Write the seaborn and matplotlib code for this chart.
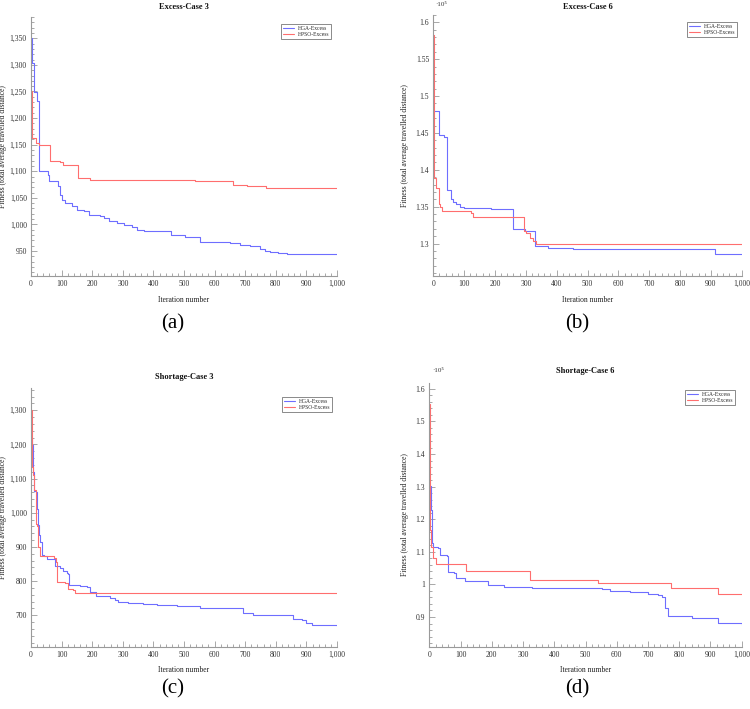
import matplotlib
matplotlib.use("Agg")
import matplotlib.pyplot as plt
import seaborn as sns
import numpy as np
import pandas as pd
from matplotlib.ticker import MultipleLocator, FuncFormatter

# ---------------- data ----------------
a_hga_it = [0, 4, 11, 18, 25, 27, 54, 59, 89, 95, 100, 111, 133, 150, 172, 189, 227, 240, 254, 281,
            305, 330, 346, 368, 456, 503, 552, 606, 650, 683, 715, 748, 765, 781, 808, 835, 1000]
a_hga_val = [1351, 1303, 1249, 1232, 1193, 1100, 1092, 1081, 1073, 1055, 1045, 1040, 1035, 1028, 1026,
             1018, 1016, 1012, 1006, 1003, 998, 996, 990, 988, 980, 977, 967, 966, 965, 962, 960, 953,
             950, 948, 946, 944, 944]
a_pso_it = [0, 2, 4, 16, 27, 62, 95, 103, 155, 193, 536, 659, 707, 768, 1000]
a_pso_val = [1251, 1234, 1162, 1153, 1150, 1119, 1117, 1112, 1087, 1083, 1081, 1075, 1072, 1068, 1068]

b_hga_it = [0, 17, 34, 45, 58, 63, 75, 88, 100, 186, 259, 296, 331, 372, 454, 913, 1000]
b_hga_val = [1.480, 1.4466, 1.444, 1.373, 1.361, 1.357, 1.353, 1.349, 1.348, 1.3475, 1.320, 1.317,
             1.2973, 1.294, 1.292, 1.286, 1.286]
b_pso_it = [0, 2, 10, 17, 22, 29, 123, 129, 294, 299, 312, 323, 332, 1000]
b_pso_val = [1.583, 1.389, 1.375, 1.3535, 1.350, 1.3435, 1.341, 1.3367, 1.317, 1.314, 1.307, 1.303,
             1.299, 1.299]

c_hga_it = [0, 2, 5, 7, 11, 16, 18, 22, 24, 27, 29, 35, 37, 44, 52, 78, 95, 105, 117, 122, 125, 160,
            182, 193, 211, 258, 274, 285, 318, 367, 411, 476, 552, 574, 692, 726, 770, 857, 884, 900,
            917, 1000]
c_hga_val = [1218, 1198, 1130, 1118, 1064, 1060, 1010, 970, 964, 935, 915, 912, 877, 872, 864, 845, 838,
             830, 825, 820, 789, 786, 782, 767, 755, 750, 745, 740, 736, 733, 730, 728, 722, 720, 706,
             702, 700, 688, 685, 677, 670, 668]
c_pso_it = [0, 4, 7, 11, 15, 16, 20, 22, 29, 76, 83, 86, 111, 122, 136, 144, 1000]
c_pso_val = [1300, 1135, 1110, 1066, 1050, 966, 960, 901, 874, 867, 857, 798, 795, 776, 773, 766, 766]

d_hga_it = [0, 7, 9, 11, 29, 34, 56, 59, 80, 84, 114, 189, 240, 328, 552, 578, 642, 700, 733, 744,
            754, 765, 840, 923, 1000]
d_hga_val = [1.301, 1.229, 1.127, 1.116, 1.111, 1.091, 1.086, 1.039, 1.034, 1.019, 1.012, 0.998, 0.991,
             0.988, 0.985, 0.980, 0.977, 0.972, 0.968, 0.962, 0.927, 0.903, 0.898, 0.881, 0.876]
d_pso_it = [0, 1, 5, 11, 21, 117, 322, 539, 774, 923, 1000]
d_pso_val = [1.555, 1.1675, 1.116, 1.080, 1.062, 1.040, 1.013, 1.005, 0.990, 0.970, 0.970]

titles = ["Excess-Case 3", "Excess-Case 6", "Shortage-Case 3", "Shortage-Case 6"]
panel_labels = ["(a)", "(b)", "(c)", "(d)"]
series_names = ["HGA-Excess", "HPSO-Excess"]
x_label = "Iteration number"
y_label = "Fitness (total average travelled distance)"

# ---------------- style ----------------
sns.set_style("white")
plt.rcParams["font.family"] = ["Liberation Serif", "DejaVu Serif"]

W, H = 750, 709
fig = plt.figure(figsize=(W / 100, H / 100), dpi=100)

BLUE = "#6e6eff"
RED = "#ff6e6e"
SPINE = "#9a9a9a"


def px_axes(l, t, r, b):
    return fig.add_axes([l / W, 1 - b / H, (r - l) / W, (b - t) / H])


panels = [
    dict(box=(31, 17, 337, 276), ylim=(903, 1390), major=50, minor=10, comma=True,
         hga=(a_hga_it, a_hga_val), pso=(a_pso_it, a_pso_val), leg=(281, 24), title_y=7,
         lab=(173, 324), exp=None, xlab_y=296, ylab_x=7),
    dict(box=(433.3, 15, 741.7, 276), ylim=(1.256, 1.61), major=0.05, minor=0.01, comma=False,
         hga=(b_hga_it, b_hga_val), pso=(b_pso_it, b_pso_val), leg=(687, 22), title_y=7,
         lab=(577, 324), exp=(435, 5), xlab_y=296, ylab_x=409),
    dict(box=(31, 388, 337, 647), ylim=(607, 1365), major=100, minor=20, comma=True,
         hga=(c_hga_it, c_hga_val), pso=(c_pso_it, c_pso_val), leg=(282, 397), title_y=377,
         lab=(173, 689), exp=None, xlab_y=666, ylab_x=7),
    dict(box=(429.3, 383, 741.7, 647), ylim=(0.808, 1.618), major=0.1, minor=0.02, comma=False,
         hga=(d_hga_it, d_hga_val), pso=(d_pso_it, d_pso_val), leg=(685, 390), title_y=371,
         lab=(577, 689), exp=(432, 370), xlab_y=666, ylab_x=409),
]


def comma_fmt(v, pos):
    return f"{int(round(v)):,}"


def dec_fmt(v, pos):
    s = f"{v:.2f}".rstrip("0").rstrip(".")
    return s


for i, p in enumerate(panels):
    l, t, r, b = p["box"]
    ax = px_axes(l, t, r, b)
    df_h = pd.DataFrame({"it": p["hga"][0], "val": p["hga"][1]})
    df_p = pd.DataFrame({"it": p["pso"][0], "val": p["pso"][1]})
    sns.lineplot(data=df_h, x="it", y="val", ax=ax, color=BLUE, linewidth=0.8,
                 drawstyle="steps-post", estimator=None, sort=False, label=series_names[0])
    sns.lineplot(data=df_p, x="it", y="val", ax=ax, color=RED, linewidth=0.8,
                 drawstyle="steps-post", estimator=None, sort=False, label=series_names[1])
    ax.set_xlim(0, 1000)
    ax.set_ylim(*p["ylim"])
    for s in ["top", "right"]:
        ax.spines[s].set_visible(False)
    for s in ["left", "bottom"]:
        ax.spines[s].set_color(SPINE)
        ax.spines[s].set_linewidth(0.8)
    ax.xaxis.set_major_locator(MultipleLocator(100))
    ax.xaxis.set_minor_locator(MultipleLocator(20))
    ax.yaxis.set_major_locator(MultipleLocator(p["major"]))
    ax.yaxis.set_minor_locator(MultipleLocator(p["minor"]))
    ax.xaxis.set_major_formatter(FuncFormatter(comma_fmt))
    ax.yaxis.set_major_formatter(FuncFormatter(comma_fmt if p["comma"] else dec_fmt))
    ax.tick_params(which="both", direction="in", color=SPINE, labelsize=5.5,
                   labelcolor="#333333", width=0.6, pad=3)
    ax.tick_params(which="major", length=4)
    ax.tick_params(which="minor", length=2)
    ax.tick_params(axis="both", which="both", bottom=True, left=True)
    ax.set_xlabel(x_label, fontsize=5.5, color="#222222")
    ax.set_ylabel(y_label, fontsize=5.5, color="#222222")
    wpx = r - l
    hpx = b - t
    ax.xaxis.set_label_coords(0.5, (b - p["xlab_y"]) / hpx)
    ax.yaxis.set_label_coords((p["ylab_x"] - l) / wpx, 0.5)
    ax.set_facecolor("white")
    ax.grid(False)

    # legend
    lx, ly = p["leg"]
    leg = ax.legend(loc="upper left", bbox_to_anchor=((lx - l) / wpx, (b - ly) / hpx),
                    fontsize=4.0, frameon=True, fancybox=False, edgecolor="#555555",
                    handlelength=1.9, handletextpad=0.8, borderpad=0.35, labelspacing=0.15,
                    borderaxespad=0)
    leg.get_frame().set_linewidth(0.6)

    # title
    fig.text(((l + r) / 2) / W, 1 - p["title_y"] / H, titles[i], ha="center", va="center",
             fontsize=6, fontweight="bold", color="#111111")
    # panel label
    fig.text(p["lab"][0] / W, 1 - p["lab"][1] / H, panel_labels[i], ha="center", va="center",
             fontsize=15, color="black")
    if p["exp"] is not None:
        fig.text(p["exp"][0] / W, 1 - p["exp"][1] / H, "·10⁵", ha="left", va="center",
                 fontsize=5, color="#333333")

fig.savefig("out.png", dpi=100, facecolor="white")
